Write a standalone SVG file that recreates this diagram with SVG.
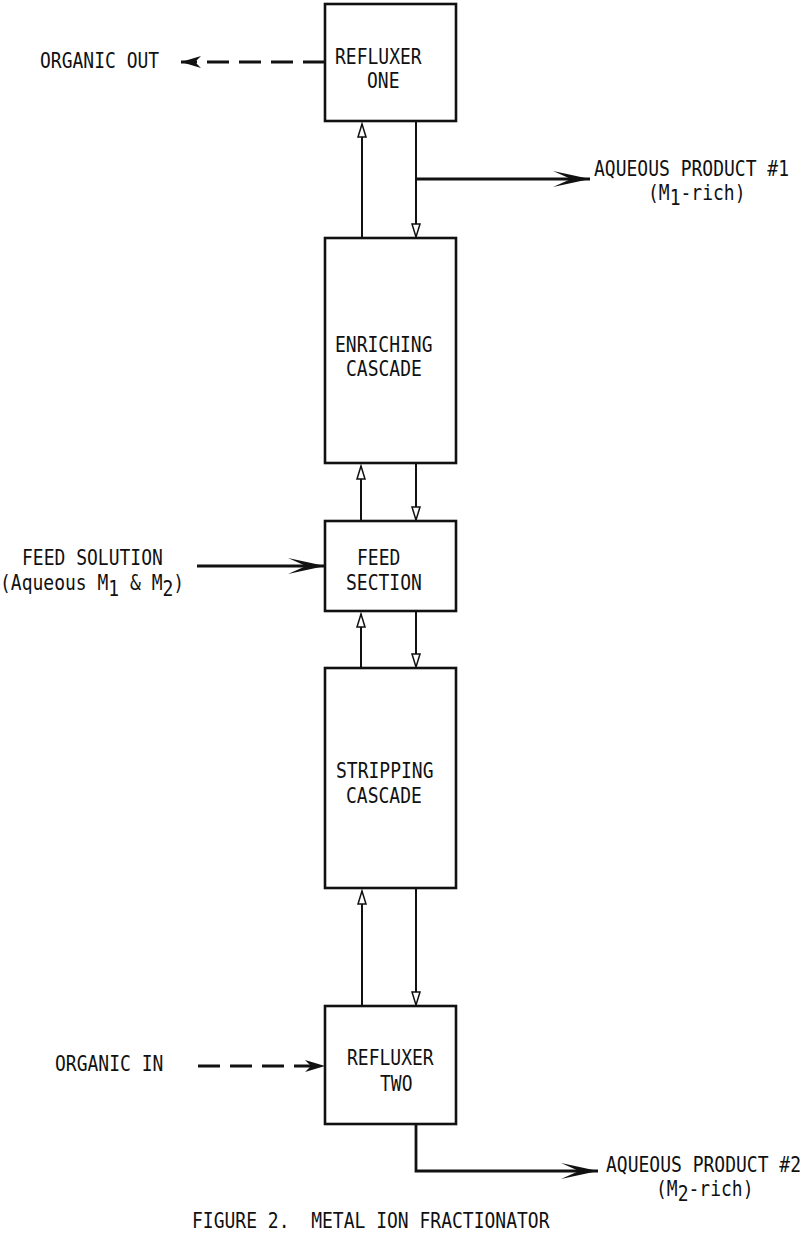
<svg xmlns="http://www.w3.org/2000/svg" width="800" height="1233" viewBox="0 0 800 1233">
<style>
.t{font-family:"DejaVu Sans Mono","Liberation Mono",monospace;font-size:18px;fill:#111;white-space:pre}
.box{fill:#fff;stroke:#111;stroke-width:2.6}
.ln{fill:none;stroke:#111;stroke-width:2}
.thick{fill:none;stroke:#111;stroke-width:2.8}
.dash{fill:none;stroke:#111;stroke-width:3;stroke-dasharray:22 10}
</style>
<defs>
<marker id="big" markerUnits="userSpaceOnUse" markerWidth="40" markerHeight="18" refX="37" refY="8" orient="auto">
<path d="M0,0 L37,8 L0,16 L18,8 Z" fill="#111"/>
</marker>
<marker id="small" markerUnits="userSpaceOnUse" markerWidth="16" markerHeight="12" refX="14" refY="5" orient="auto">
<path d="M1,1 L14,5 L1,9 Z" fill="#fff" stroke="#111" stroke-width="1.5"/>
</marker>
<marker id="dhead" markerUnits="userSpaceOnUse" markerWidth="22" markerHeight="14" refX="20" refY="6" orient="auto">
<path d="M0,0 L20,6 L0,12 L6,6 Z" fill="#111"/>
</marker>
</defs>
<rect width="800" height="1233" fill="#fff"/>

<g id="connectors">
<line class="dash" x1="325" y1="62" x2="181" y2="62" marker-end="url(#dhead)"/>
<line class="ln" x1="362" y1="238" x2="362" y2="124" marker-end="url(#small)"/>
<line class="ln" x1="416" y1="121" x2="416" y2="237" marker-end="url(#small)"/>
<line class="thick" x1="416" y1="179" x2="590" y2="179" marker-end="url(#big)"/>
<line class="ln" x1="361" y1="521" x2="361" y2="466" marker-end="url(#small)"/>
<line class="ln" x1="416" y1="463" x2="416" y2="520" marker-end="url(#small)"/>
<line class="thick" x1="197" y1="566" x2="325" y2="566" marker-end="url(#big)"/>
<line class="ln" x1="361" y1="668" x2="361" y2="614" marker-end="url(#small)"/>
<line class="ln" x1="416" y1="611" x2="416" y2="667" marker-end="url(#small)"/>
<line class="ln" x1="362" y1="1006" x2="362" y2="891" marker-end="url(#small)"/>
<line class="ln" x1="416" y1="888" x2="416" y2="1005" marker-end="url(#small)"/>
<line class="dash" x1="198" y1="1066" x2="325" y2="1066" marker-end="url(#dhead)"/>
<polyline class="thick" points="416,1124 416,1171 598,1171" marker-end="url(#big)"/>
</g>

<g id="refluxer-one">
<rect class="box" x="325" y="4" width="131" height="117"/>
<text class="t" transform="translate(335,64) scale(1,1.2)">REFLUXER</text>
<text class="t" transform="translate(367,88) scale(1,1.2)">ONE</text>
</g>
<g id="enriching-cascade">
<rect class="box" x="325" y="238" width="131" height="225"/>
<text class="t" transform="translate(335,352) scale(1,1.2)">ENRICHING</text>
<text class="t" transform="translate(346,376) scale(1,1.2)">CASCADE</text>
</g>
<g id="feed-section">
<rect class="box" x="325" y="521" width="131" height="90"/>
<text class="t" transform="translate(357,565) scale(1,1.2)">FEED</text>
<text class="t" transform="translate(346,590) scale(1,1.2)">SECTION</text>
</g>
<g id="stripping-cascade">
<rect class="box" x="325" y="668" width="131" height="220"/>
<text class="t" transform="translate(336,778) scale(1,1.2)">STRIPPING</text>
<text class="t" transform="translate(346,803) scale(1,1.2)">CASCADE</text>
</g>
<g id="refluxer-two">
<rect class="box" x="325" y="1006" width="131" height="118"/>
<text class="t" transform="translate(347,1065) scale(1,1.2)">REFLUXER</text>
<text class="t" transform="translate(380,1091) scale(1,1.2)">TWO</text>
</g>

<g id="organic-out">
<text class="t" transform="translate(40,68) scale(1,1.2)">ORGANIC OUT</text>
</g>
<g id="aqueous-product-1">
<text class="t" transform="translate(594,176) scale(1,1.2)">AQUEOUS PRODUCT #1</text>
<text class="t" transform="translate(648,200) scale(1,1.2)">(M<tspan dy="4">1</tspan><tspan dy="-4">-rich)</tspan></text>
</g>
<g id="feed-solution">
<text class="t" transform="translate(22,565) scale(1,1.2)">FEED SOLUTION</text>
<text class="t" transform="translate(0,590) scale(1,1.2)">(Aqueous M<tspan dy="5">1</tspan><tspan dy="-5"> &amp; M</tspan><tspan dy="5">2</tspan><tspan dy="-5">)</tspan></text>
</g>
<g id="organic-in">
<text class="t" transform="translate(55,1071) scale(1,1.2)">ORGANIC IN</text>
</g>
<g id="aqueous-product-2">
<text class="t" transform="translate(606,1172) scale(1,1.2)">AQUEOUS PRODUCT #2</text>
<text class="t" transform="translate(656,1196) scale(1,1.2)">(M<tspan dy="4">2</tspan><tspan dy="-4">-rich)</tspan></text>
</g>
<g id="caption">
<text class="t" transform="translate(192,1228) scale(1,1.2)">FIGURE 2.  METAL ION FRACTIONATOR</text>
</g>
</svg>
